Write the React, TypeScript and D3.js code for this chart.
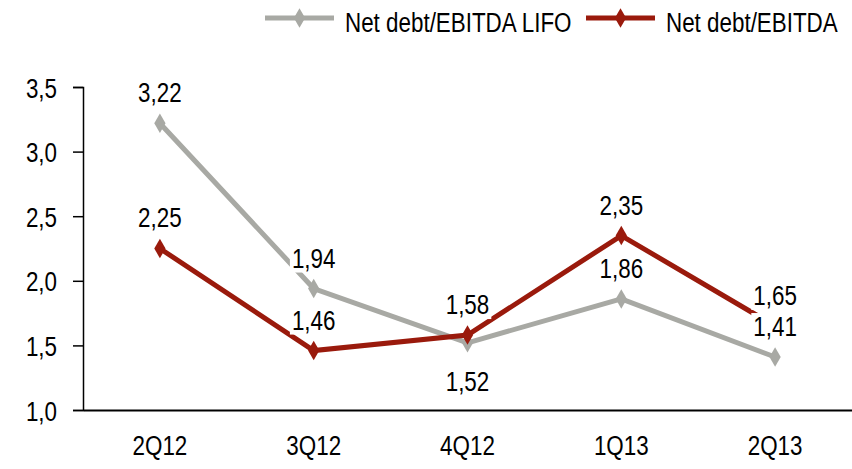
import React, { useEffect, useRef } from "react";
import * as d3 from "d3";

const categories = ["2Q12", "3Q12", "4Q12", "1Q13", "2Q13"];
const lifoValues = [3.22, 1.94, 1.52, 1.86, 1.41];
const netValues = [2.25, 1.46, 1.58, 2.35, 1.65];
const yTicks = [1.0, 1.5, 2.0, 2.5, 3.0, 3.5];
// where each value label sits relative to its point
const lifoLabelSide = ["above", "above", "below", "above", "above"];
const netLabelSide = ["above", "above", "above", "above", "above"];

const W = 852;
const H = 469;
const FONT = "'Liberation Sans', Arial, sans-serif";
const FS = 28;
const SQ = 0.8;
const GRAY = "#a8a9a4";
const RED = "#9a1a0c";

const fmt = (v: number) => v.toFixed(2).replace(".", ",");

// the original uses a narrow face, so squeeze Liberation Sans horizontally
const squeeze = (sel: any) => {
  sel.each(function (this: SVGTextElement) {
    const s = d3.select(this);
    const x = +(s.attr("x") || 0);
    s.attr("x", x / SQ).attr("transform", `scale(${SQ},1)`);
  });
};

const App = () => {
  const ref = useRef<SVGSVGElement>(null);

  useEffect(() => {
    const svg = d3.select(ref.current);
    svg.selectAll("*").remove();

    const x = d3.scaleBand().domain(categories).range([83, 852]).padding(0);
    const cx = (c: string) => (x(c) as number) + x.bandwidth() / 2;
    const y = d3.scaleLinear().domain([1, 3.5]).range([410, 87]);

    // y axis
    const yAxis = svg
      .append("g")
      .attr("transform", "translate(83,0)")
      .call(
        d3
          .axisLeft(y)
          .tickValues(yTicks)
          .tickSize(10)
          .tickPadding(16)
          .tickFormat(d => (d as number).toFixed(1).replace(".", ","))
      );
    yAxis.select(".domain").attr("stroke", "#000").attr("stroke-width", 1.5);
    yAxis.selectAll(".tick line").attr("stroke", "#000").attr("stroke-width", 1.5);
    yAxis
      .selectAll(".tick text")
      .attr("font-family", FONT)
      .attr("font-size", FS)
      .attr("dy", "0.36em")
      .attr("fill", "#000")
      .call(squeeze);

    // x axis
    const xAxis = svg
      .append("g")
      .attr("transform", "translate(0,410)")
      .call(d3.axisBottom(x).tickSize(0).tickPadding(25));
    xAxis.select(".domain").attr("stroke", "#000").attr("stroke-width", 2);
    xAxis
      .selectAll(".tick text")
      .attr("font-family", FONT)
      .attr("font-size", FS)
      .attr("fill", "#000")
      .call(squeeze);

    const line = d3
      .line<number>()
      .x((d, i) => cx(categories[i]))
      .y(d => y(d));

    const diamond = d3.symbol().type(d3.symbolDiamond).size(110);

    const series = [
      { values: lifoValues, color: GRAY, sides: lifoLabelSide },
      { values: netValues, color: RED, sides: netLabelSide },
    ];

    series.forEach(s => {
      svg
        .append("path")
        .datum(s.values)
        .attr("fill", "none")
        .attr("stroke", s.color)
        .attr("stroke-width", 5)
        .attr("d", line);
      svg
        .selectAll(null)
        .data(s.values)
        .enter()
        .append("path")
        .attr("d", diamond)
        .attr("fill", s.color)
        .attr("transform", (d, i) => `translate(${cx(categories[i])},${y(d)})`);
    });

    // value labels with white boxes, drawn over the lines
    series.forEach(s => {
      s.values.forEach((v, i) => {
        const g = svg.append("g");
        const ly = s.sides[i] === "above" ? y(v) - 21 : y(v) + 48;
        const t = g
          .append("text")
          .attr("x", cx(categories[i]))
          .attr("y", ly)
          .attr("text-anchor", "middle")
          .attr("font-family", FONT)
          .attr("font-size", FS)
          .attr("fill", "#000")
          .text(fmt(v));
        const w = (t.node() as SVGTextElement).getComputedTextLength() * SQ;
        t.call(squeeze);
        g.insert("rect", "text")
          .attr("x", cx(categories[i]) - w / 2 - 2)
          .attr("y", ly - 23)
          .attr("width", w + 4)
          .attr("height", 28)
          .attr("fill", "#fff");
      });
    });

    // legend
    const legendItems = [
      { name: "Net debt/EBITDA LIFO", color: GRAY, x: 265 },
      { name: "Net debt/EBITDA", color: RED, x: 586 },
    ];
    legendItems.forEach(item => {
      const g = svg.append("g").attr("transform", `translate(${item.x},18)`);
      g.append("line")
        .attr("x1", 0)
        .attr("x2", 69)
        .attr("stroke", item.color)
        .attr("stroke-width", 5);
      g.append("path").attr("d", diamond).attr("fill", item.color).attr("transform", "translate(34.5,0)");
      g.append("text")
        .attr("x", 80)
        .attr("y", 14)
        .attr("font-family", FONT)
        .attr("font-size", FS)
        .attr("fill", "#000")
        .text(item.name)
        .call(squeeze);
    });
  }, []);

  return (
    <div style={{ position: "absolute", left: 0, top: 0 }}>
      <svg ref={ref} width={W} height={H} style={{ display: "block", background: "#fff" }} />
    </div>
  );
};

export default App;
